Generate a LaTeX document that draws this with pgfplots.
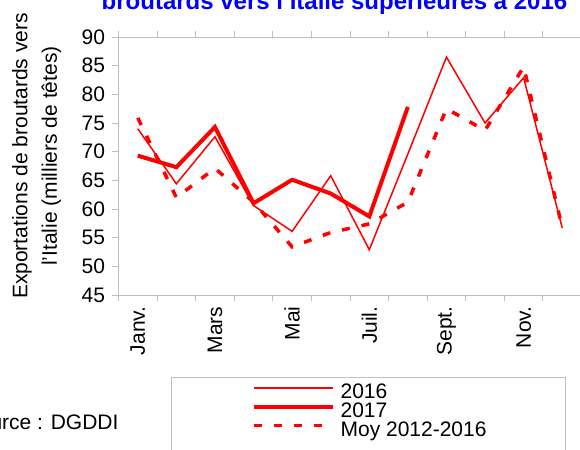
\documentclass[border=0pt]{standalone}
\usepackage{pgfplots}
\pgfplotsset{compat=1.18}
\usepackage{fontspec}
\setmainfont{Liberation Sans}
\definecolor{axgray}{RGB}{191,191,191}
\definecolor{ttlblue}{RGB}{0,0,255}
\begin{document}
\begin{tikzpicture}
\path[use as bounding box] (0,0) rectangle (580bp,-450bp);
\begin{axis}[
  at={(118.5bp,-295bp)}, anchor=south west,
  scale only axis, width=463bp, height=258bp,
  xmin=0.5, xmax=12.5, ymin=45, ymax=90,
  axis line style={axgray, line width=0.9bp},
  tick style={axgray, line width=0.9bp},
  tick align=outside, major tick length=6bp,
  xtick={0.5,1.5,...,12.5}, xticklabels={},
  extra x ticks={1,3,5,7,9,11},
  extra x tick labels={Janv.,Mars,Mai,Juil.,Sept.,Nov.},
  extra x tick style={major tick length=0pt, tick label style={rotate=90, anchor=east, xshift=-8bp}},
  ytick={45,50,...,90},
  yticklabel style={xshift=-4bp},
  tick label style={font=\fontsize{21bp}{25bp}\selectfont},
  /pgf/number format/assume math mode=true,
  legend style={at={(0.2875,-0.345)}, anchor=north west, draw=none, fill=none,
    inner sep=0pt, outer sep=0pt, row sep=0pt, column sep=6bp,
    font=\fontsize{21bp}{25bp}\selectfont,
    nodes={inner sep=0pt, text height=14.5bp, text depth=4.3bp}},
  legend cell align=left,
  legend image code/.code={\draw[#1] (0bp,5.5bp) -- (79bp,5.5bp);},
]
\addplot[red, line width=1.5bp] coordinates {(1,74.0)(2,64.4)(3,72.6)(4,60.6)(5,56.1)(6,65.8)(7,52.9)(8,69.6)(9,86.5)(10,75.0)(11,82.9)(12,56.7)};
\addlegendentry{2016}
\addplot[red, line width=4bp] coordinates {(1,69.3)(2,67.3)(3,74.3)(4,61.0)(5,65.1)(6,62.7)(7,58.7)(8,77.8)};
\addlegendentry{2017}
\addplot[red, line width=3.5bp, dash pattern=on 8bp off 12bp] coordinates {(1,75.9)(2,62.0)(3,67.1)(4,61.2)(5,53.4)(6,55.9)(7,57.4)(8,61.2)(9,77.5)(10,73.7)(11,84.8)(12,56.8)};
\addlegendentry{Moy 2012-2016}
\end{axis}
\draw[axgray, line width=0.9bp] (171bp,-377bp) rectangle (565bp,-470bp);
\node[rotate=90, align=center, font=\fontsize{21bp}{29.5bp}\selectfont] at (36.8bp,-156bp) {Exportations de broutards vers\\l'Italie (milliers de têtes)};
\node[anchor=base east, font=\fontsize{21bp}{25bp}\selectfont] at (122bp,-429bp) {Source : DGDDI};
\node[anchor=base, font=\bfseries\fontsize{24bp}{28bp}\selectfont, text=ttlblue] at (334.5bp,-9bp) {broutards vers l'Italie supérieures à 2016};
\end{tikzpicture}
\end{document}
